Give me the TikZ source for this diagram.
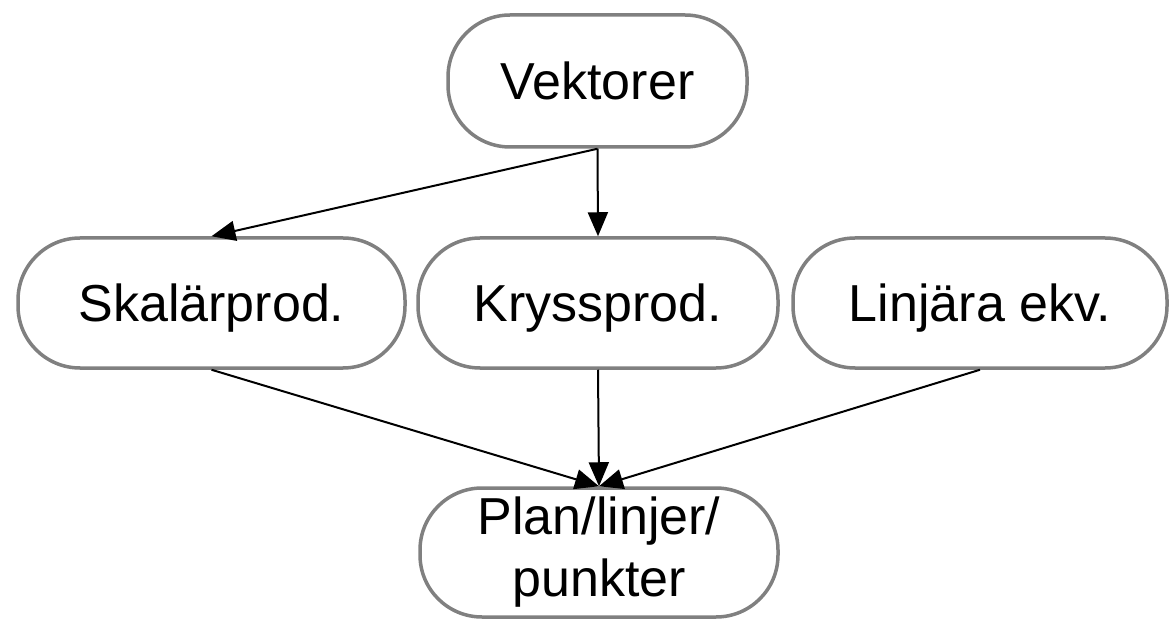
\documentclass[tikz,border=0pt]{standalone}
\usepackage{fontspec}
\setmainfont{Liberation Sans}
\usetikzlibrary{arrows.meta}
\begin{document}
\begin{tikzpicture}[x=1pt,y=-1pt,
  topic/.style={draw=black!50, line width=3.5pt, fill=white, rounded corners=62pt,
    inner sep=0pt, font=\fontsize{52}{62}\selectfont, align=center},
  link/.style={line width=2pt, -{Triangle[length=24pt,width=20pt]}}]
  \useasboundingbox (0,0) rectangle (1170,620);
  \node[topic, minimum width=299pt, minimum height=132pt, text height=37pt, text depth=0pt] (vek) at (597.5,81) {Vektorer};
  \node[topic, minimum width=387pt, minimum height=130pt, text height=37pt, text depth=0pt] (ska) at (211.5,303) {Skalärprod.};
  \node[topic, minimum width=360pt, minimum height=130pt, text height=37pt, text depth=0pt] (kry) at (598,303) {Kryssprod.};
  \node[topic, minimum width=374pt, minimum height=130pt, text height=37pt, text depth=0pt] (lin) at (980,303) {Linjära ekv.};
  \node[topic, minimum width=358pt, minimum height=129pt] (pla) at (599,552.5) {Plan/linjer/\\punkter};
  \draw[link] (vek.south) -- (kry.north);
  \draw[link] (vek.south) -- (ska.north);
  \draw[link] (ska.south) -- (pla.north);
  \draw[link] (kry.south) -- (pla.north);
  \draw[link] (lin.south) -- (pla.north);
\end{tikzpicture}
\end{document}
